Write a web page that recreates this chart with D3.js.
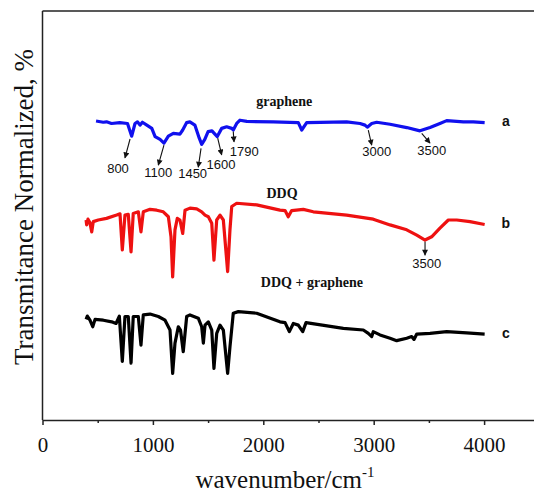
<!DOCTYPE html>
<html>
<head>
<meta charset="utf-8">
<script src="https://cdn.jsdelivr.net/npm/d3@7"></script>
<style>
body { margin: 0; background: #fff; }
</style>
</head>
<body>
<div id="chart"></div>
<script>
// wavenumber (cm-1) and normalized transmittance (offset spectra)
var wnA = [485,550,580,625,700,770,808,838,860,883,905,945,990,1020,1065,1100,1140,1185,1245,1270,1305,1335,1380,1420,1442,1470,1500,1535,1562,1583,1623,1668,1714,1728,1759,1789,1850,2090,2317,2348,2393,2755,2876,2921,2942,2982,3027,3148,3299,3419,3510,3600,3661,3812,3902,4005];
var tA  = [73.1,72.8,72.9,72.5,72.7,72.5,69.4,72.5,72.9,72.1,72.8,72.1,71.3,69.3,68.6,67.7,69.4,70.1,69.9,70.9,72.7,72.9,72.1,68.9,67.4,68.6,70.5,70.7,69.9,69.3,71.3,71.7,71.3,70.9,72.5,73.3,73.0,72.9,72.7,70.9,72.7,72.9,72.5,72.1,71.6,72.5,72.8,72.3,71.5,70.7,71.5,72.5,73.2,72.9,72.9,72.7];

var wnB = [395,400,412,430,446,460,505,580,672,702,723,747,777,802,822,868,892,913,974,1034,1094,1140,1164,1179,1200,1221,1245,1270,1291,1336,1397,1442,1472,1502,1533,1553,1578,1608,1638,1677,1698,1714,1759,1940,2151,2197,2226,2257,2362,2453,2755,2996,3148,3299,3390,3465,3525,3600,3676,3752,3872,4005];
var tB  = [48.9,47.7,49.1,48.2,46.0,48.5,48.9,49.3,50.1,50.4,41.6,50.1,50.3,41.1,50.5,50.9,46.0,50.9,51.5,51.3,50.9,49.7,44.8,35.0,46.5,49.3,48.9,45.6,51.3,51.8,51.6,50.9,50.1,49.7,48.1,39.1,48.9,50.1,48.9,36.3,46.5,52.2,53.0,52.6,51.3,51.2,49.7,51.2,51.5,50.9,50.1,49.1,47.7,46.5,45.2,44.0,44.8,46.9,48.9,48.9,48.5,47.8];

var wnC = [395,406,430,455,476,551,627,666,696,723,747,777,802,822,868,892,913,974,1049,1110,1155,1179,1200,1230,1250,1275,1306,1336,1411,1442,1457,1472,1502,1533,1553,1578,1608,1638,1677,1698,1728,1774,1940,2151,2197,2236,2272,2317,2357,2387,2725,2906,2951,2982,2996,3057,3148,3208,3299,3344,3365,3390,3510,3661,3842,4005];
var tC  = [24.6,25.4,24.4,22.8,24.6,24.4,24.0,23.6,25.4,14.3,25.3,25.3,13.9,25.3,25.3,18.3,25.7,25.9,25.3,24.4,22.0,11.4,18.8,22.8,22.0,16.7,25.3,25.7,24.9,22.8,18.8,23.2,24.0,22.0,12.6,21.2,23.2,22.0,11.4,17.9,26.1,26.5,26.1,24.0,23.8,21.6,23.6,23.2,21.6,23.8,22.4,22.0,21.2,20.4,21.6,20.8,20.0,19.4,20.0,20.4,19.7,21.0,21.2,21.6,21.3,21.0];

var seriesColors = ["#1010ee", "#ee1111", "#000000"];
var seriesNames = ["graphene", "DDQ", "DDQ + graphene"];
var seriesLetters = ["a", "b", "c"];
var xTicks = [0, 1000, 2000, 3000, 4000];
var xMinor = [500, 1500, 2500, 3500, 4500];

// peak annotations: label, arrow tail/head (wn, T), text anchor (wn, T)
var peakLabels = ["800", "1100", "1450", "1600", "1790", "3000", "3500", "3500"];
var arrowFrom  = [[793,68.7],[1100,67.2],[1436,66.4],[1587,68.9],[1728,70.5],[2951,70.9],[3435,70.1],[3465,43.6]];
var arrowTo    = [[747,64.1],[1049,62.3],[1411,61.8],[1623,64.8],[1735,68.0],[2982,67.2],[3510,67.7],[3465,40.3]];
var labelAt    = [[684,60.4],[1049,59.4],[1360,59.2],[1617,61.4],[1828,64.5],[3027,64.5],[3525,64.8],[3480,37.2]];

var nameAt   = [[2190,76.8],[2170,54.3],[2440,32.5]];
var letterAt = [[4197,71.9],[4197,46.9],[4197,20.0]];

var svgWidth = 534, svgHeight = 492;
var margin = {left: 42.5, top: 11, bottom: 72};

var svg = d3.select("#chart").append("svg")
    .attr("width", svgWidth)
    .attr("height", svgHeight);

var xscale = d3.scaleLinear().domain([0, 4500]).range([margin.left, margin.left + 4500 * 0.1104]);
var yscale = d3.scaleLinear().domain([0, 100]).range([svgHeight - margin.bottom, margin.top]);
var yBottom = svgHeight - margin.bottom;

var lineGen = d3.line().x(d => xscale(d[0])).y(d => yscale(d[1]));

[[wnA, tA], [wnB, tB], [wnC, tC]].forEach(function(s, i){
    var pts = s[0].map((w, j) => [w, s[1][j]]);
    svg.append("path")
       .attr("d", lineGen(pts))
       .attr("fill", "none")
       .attr("stroke", seriesColors[i])
       .attr("stroke-width", 3.2)
       .attr("stroke-linejoin", "round");
});

// frame: left and top
svg.append("line").attr("x1", xscale(0)).attr("x2", xscale(0))
   .attr("y1", yscale(100)).attr("y2", yBottom)
   .attr("stroke", "#222").attr("stroke-width", 1.5);
svg.append("line").attr("x1", xscale(0)).attr("x2", xscale(4500))
   .attr("y1", yscale(100)).attr("y2", yscale(100))
   .attr("stroke", "#222").attr("stroke-width", 1.5);

var xAxis = d3.axisBottom(xscale).tickValues(xTicks).tickFormat(d3.format("d"))
    .tickSize(5).tickPadding(12).tickSizeOuter(0);
var gx = svg.append("g").attr("transform", `translate(0,${yBottom})`).call(xAxis);
gx.select(".domain").attr("stroke", "#222").attr("stroke-width", 1.5);
gx.selectAll(".tick line").attr("stroke", "#222").attr("stroke-width", 1.5);
gx.selectAll(".tick text")
  .attr("font-family", "Liberation Serif, Times New Roman, serif")
  .attr("font-size", "21px")
  .attr("fill", "#111");
svg.append("g").attr("transform", `translate(0,${yBottom})`)
   .call(d3.axisBottom(xscale).tickValues(xMinor).tickSize(3).tickFormat("").tickSizeOuter(0))
   .call(g => g.select(".domain").remove())
   .selectAll(".tick line").attr("stroke", "#222").attr("stroke-width", 1.5);

// axis titles
var xt = svg.append("text")
   .attr("x", 285).attr("y", 488)
   .attr("text-anchor", "middle")
   .attr("font-family", "Liberation Serif, Times New Roman, serif")
   .attr("font-size", "25px").attr("fill", "#111");
xt.append("tspan").text("wavenumber/cm");
xt.append("tspan").attr("font-size", "15px").attr("dy", -11).text("-1");

svg.append("text")
   .attr("transform", "translate(33,207) rotate(-90)")
   .attr("text-anchor", "middle")
   .attr("font-family", "Liberation Serif, Times New Roman, serif")
   .attr("font-size", "27px").attr("fill", "#111")
   .text("Transmitance Normalized, %");

// arrow marker
svg.append("defs").append("marker")
   .attr("id", "arr").attr("viewBox", "0 0 10 10")
   .attr("refX", 9).attr("refY", 5)
   .attr("markerWidth", 7).attr("markerHeight", 6)
   .attr("markerUnits", "userSpaceOnUse")
   .attr("orient", "auto")
   .append("path").attr("d", "M0,0L10,5L0,10Z").attr("fill", "#111");

peakLabels.forEach(function(lab, i){
    svg.append("line")
       .attr("x1", xscale(arrowFrom[i][0])).attr("y1", yscale(arrowFrom[i][1]))
       .attr("x2", xscale(arrowTo[i][0])).attr("y2", yscale(arrowTo[i][1]))
       .attr("stroke", "#111").attr("stroke-width", 1.1)
       .attr("marker-end", "url(#arr)");
    svg.append("text")
       .attr("x", xscale(labelAt[i][0])).attr("y", yscale(labelAt[i][1]))
       .attr("text-anchor", "middle")
       .attr("font-family", "Liberation Sans, Arial, sans-serif")
       .attr("font-size", "13px").attr("fill", "#111")
       .text(lab);
});

seriesNames.forEach(function(n, i){
    svg.append("text")
       .attr("x", xscale(nameAt[i][0])).attr("y", yscale(nameAt[i][1]))
       .attr("text-anchor", "middle")
       .attr("font-family", "Liberation Serif, Times New Roman, serif")
       .attr("font-weight", "bold")
       .attr("font-size", "14px").attr("fill", "#111")
       .text(n);
    svg.append("text")
       .attr("x", xscale(letterAt[i][0])).attr("y", yscale(letterAt[i][1]))
       .attr("text-anchor", "middle")
       .attr("font-family", "Liberation Sans, Arial, sans-serif")
       .attr("font-weight", "bold")
       .attr("font-size", "14px").attr("fill", "#111")
       .text(seriesLetters[i]);
});
</script>
</body>
</html>
